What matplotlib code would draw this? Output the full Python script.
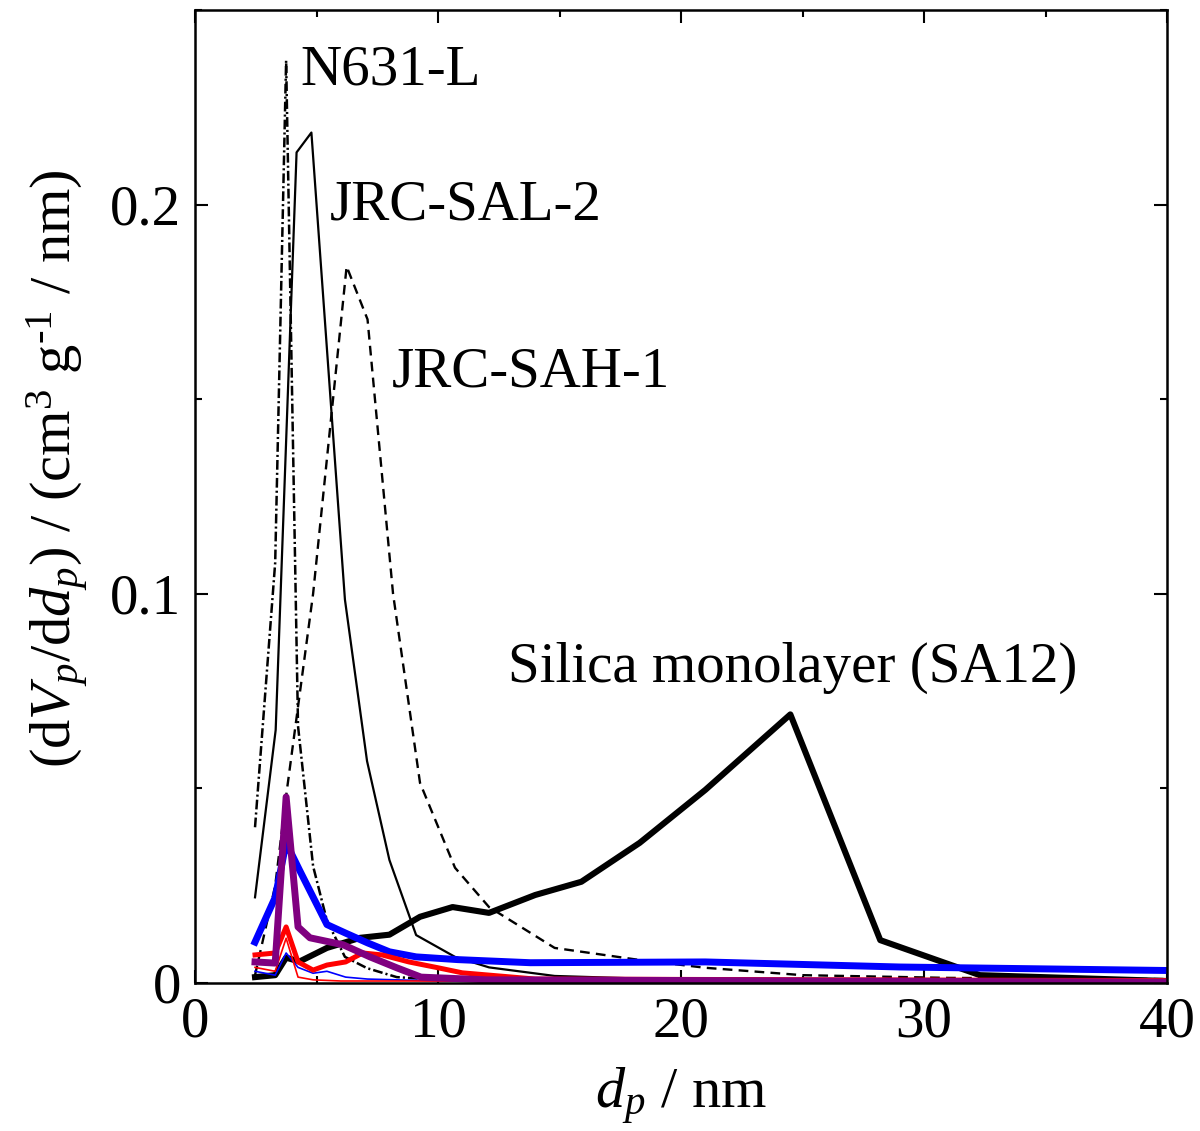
import matplotlib
matplotlib.use('Agg')
import matplotlib.pyplot as plt
from matplotlib.ticker import MultipleLocator

plt.rcParams['font.family'] = ['Liberation Serif', 'DejaVu Serif']
plt.rcParams['mathtext.fontset'] = 'custom'
plt.rcParams['mathtext.rm'] = 'Liberation Serif'
plt.rcParams['mathtext.it'] = 'Liberation Serif:italic'
plt.rcParams['lines.scale_dashes'] = False

# pore size distributions (BJH), d_p in nm, dV/dd in cm3 g-1 nm-1
d_n631 = [2.47, 3.3, 3.75, 4.24, 4.86, 5.43, 6.17, 7.08, 8.3, 10.0, 15.0, 40.0]
v_n631 = [0.040, 0.108, 0.237, 0.066, 0.030, 0.016, 0.0067, 0.0038, 0.0015, 0.0008, 0.0004, 0.0002]

d_sal2 = [2.47, 3.32, 4.18, 4.79, 6.17, 7.08, 8.0, 9.1, 10.7, 12.1, 14.8, 20.0, 40.0]
v_sal2 = [0.022, 0.065, 0.2134, 0.2185, 0.0985, 0.057, 0.0316, 0.0123, 0.0067, 0.004, 0.0018, 0.0008, 0.0003]

d_sah1 = [2.47, 3.3, 3.77, 4.86, 6.24, 7.1, 8.15, 9.26, 10.7, 12.1, 14.8, 18.3, 21.0, 25.0, 31.0, 40.0]
v_sah1 = [0.002, 0.025, 0.049, 0.1, 0.1841, 0.1705, 0.1, 0.0514, 0.0296, 0.0195, 0.009, 0.0059, 0.0039, 0.002, 0.0013, 0.001]

d_sa12 = [2.47, 3.3, 3.75, 4.3, 5.43, 6.8, 8.0, 9.26, 10.6, 12.1, 14.0, 15.9, 18.3, 21.0, 24.5, 28.2, 32.3, 40.0]
v_sa12 = [0.0015, 0.002, 0.0065, 0.0055, 0.009, 0.0116, 0.0124, 0.017, 0.0195, 0.018, 0.0226, 0.026, 0.036, 0.0496, 0.069, 0.011, 0.002, 0.0005]

d_blue = [2.47, 3.3, 3.75, 4.3, 5.43, 6.2, 7.1, 8.0, 9.1, 10.8, 13.8, 21.0, 29.0, 40.0]
v_blue = [0.0105, 0.022, 0.036, 0.029, 0.015, 0.0128, 0.0103, 0.008, 0.0067, 0.006, 0.0052, 0.0054, 0.0041, 0.0032]

d_blue_thin = [2.47, 3.3, 3.75, 4.24, 4.86, 5.43, 6.2, 7.1, 10.0, 40.0]
v_blue_thin = [0.003, 0.002, 0.0077, 0.004, 0.0025, 0.003, 0.0015, 0.001, 0.0005, 0.0002]

d_red = [2.47, 3.3, 3.75, 4.24, 4.86, 5.43, 6.2, 6.9, 7.7, 8.8, 10.0, 11.0, 14.0, 40.0]
v_red = [0.0072, 0.0077, 0.0144, 0.0054, 0.0033, 0.0046, 0.0054, 0.0077, 0.0072, 0.0054, 0.0039, 0.0026, 0.001, 0.0006]

d_red_thin = [2.47, 3.3, 3.75, 4.24, 4.86, 6.0, 40.0]
v_red_thin = [0.004, 0.003, 0.0115, 0.0015, 0.0008, 0.0005, 0.0005]

d_purple = [2.47, 3.3, 3.75, 4.24, 4.73, 6.1, 7.2, 8.3, 9.3, 12.0, 40.0]
v_purple = [0.0054, 0.0051, 0.0478, 0.0144, 0.0116, 0.0098, 0.0067, 0.0039, 0.0015, 0.0008, 0.0002]

fig = plt.figure(figsize=(12, 11.31), dpi=100)
ax = fig.add_axes([0.1625, 0.1309, 0.81, 0.8603])

ax.plot(d_n631, v_n631, color='k', lw=1.8, ls=(0, (7, 2.2, 1.5, 2.2)))
ax.plot(d_sal2, v_sal2, color='k', lw=1.6)
ax.plot(d_sah1, v_sah1, color='k', lw=1.7, ls=(0, (7, 4.5)))
ax.plot(d_sa12, v_sa12, color='k', lw=4.4)
ax.plot(d_blue_thin, v_blue_thin, color='blue', lw=1.2)
ax.plot(d_red_thin, v_red_thin, color='red', lw=1.2)
ax.plot(d_blue, v_blue, color='blue', lw=5)
ax.plot(d_red, v_red, color='red', lw=3.6)
ax.plot(d_purple, v_purple, color='purple', lw=5)

fs = 41
ax.text(4.32, 0.2308, 'N631-L', fontsize=fs, va='baseline')
ax.text(5.56, 0.1961, 'JRC-SAL-2', fontsize=fs, va='baseline')
ax.text(8.10, 0.1532, 'JRC-SAH-1', fontsize=fs, va='baseline')
ax.text(12.9, 0.0774, 'Silica monolayer (SA12)', fontsize=fs, va='baseline')

ax.set_xlim(0, 40)
ax.set_ylim(0, 0.25)
ax.xaxis.set_major_locator(MultipleLocator(10))
ax.xaxis.set_minor_locator(MultipleLocator(5))
ax.yaxis.set_minor_locator(MultipleLocator(0.05))
ax.set_yticks([0, 0.1, 0.2])
ax.set_yticklabels(['0', '0.1', '0.2'])
ax.tick_params(which='both', direction='in', top=True, right=True, width=1.5, labelsize=fs)
ax.tick_params(which='major', length=9.5, pad=10)
ax.tick_params(which='minor', length=5)
for s in ax.spines.values():
    s.set_linewidth(1.8)

ax.set_xlabel('$d_p$ / nm', fontsize=fs + 1, labelpad=12)
ax.set_ylabel('(d$V_p$/d$d_p$) / (cm$^{3}$ g$^{\\text{-}1}$ / nm)', fontsize=fs + 1)
ax.yaxis.set_label_coords(-0.107, 0.528)

fig.savefig('out.png', dpi=100)
